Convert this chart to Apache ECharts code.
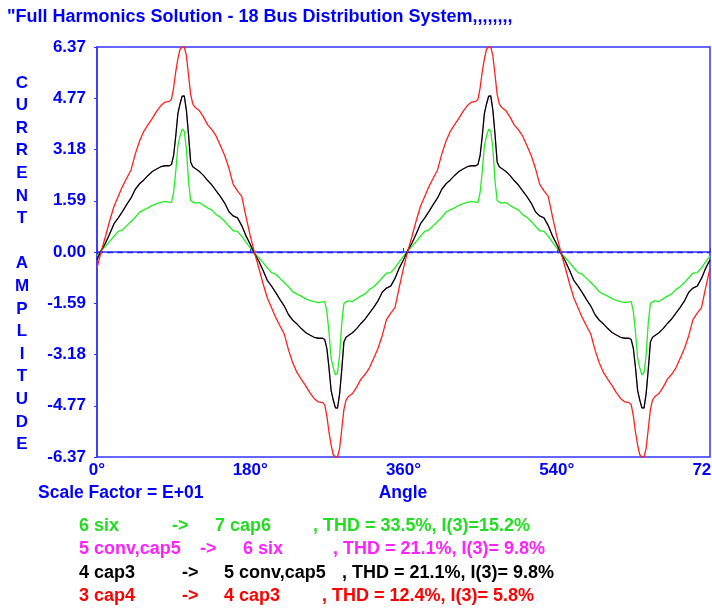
<!DOCTYPE html>
<html><head><meta charset="utf-8">
<script src="https://cdn.jsdelivr.net/npm/echarts@6/dist/echarts.min.js"></script>
<style>html,body{margin:0;padding:0;background:#fff}#c{width:712px;height:608px}</style>
</head><body><div id="c"></div>
<script>
const titleText = '"Full Harmonics Solution - 18 Bus Distribution System,,,,,,,,';
const yAxisTitle = 'CURRENT AMPLITUDE';
const xAxisTitle = 'Angle';
const scaleText = 'Scale Factor = E+01';
const yTickLabels = ['-6.37','-4.77','-3.18','-1.59','0.00','1.59','3.18','4.77','6.37'];
const xTicks = [0, 180, 360, 540, 720];

const angles = [0,5,10,15,20,25,30,35,40,45,50,55,60,65,70,75,80,85,87.5,90,92.5,95,97.5,100,102.5,105,107.5,110,112.5,115,120,125,130,135,140,145,150,155,160,165,170,175,
180,185,190,195,200,205,210,215,220,225,230,235,240,245,250,255,260,265,267.5,270,272.5,275,277.5,280,282.5,285,287.5,290,292.5,295,300,305,310,315,320,325,330,335,340,345,350,355,
360,365,370,375,380,385,390,395,400,405,410,415,420,425,430,435,440,445,447.5,450,452.5,455,457.5,460,462.5,465,467.5,470,472.5,475,480,485,490,495,500,505,510,515,520,525,530,535,
540,545,550,555,560,565,570,575,580,585,590,595,600,605,610,615,620,625,627.5,630,632.5,635,637.5,640,642.5,645,647.5,650,652.5,655,660,665,670,675,680,685,690,695,700,705,710,715,720];

const greenValues = [-0.13,0.04,0.18,0.33,0.49,0.64,0.69,0.82,0.95,1.08,1.24,1.31,1.37,1.45,1.50,1.54,1.57,1.55,1.54,1.85,2.50,3.30,3.60,3.82,3.75,3.20,2.20,1.60,1.55,1.52,1.54,1.45,1.37,1.30,1.16,1.08,0.95,0.80,0.66,0.64,0.49,0.30,
0.13,-0.04,-0.18,-0.33,-0.49,-0.64,-0.69,-0.82,-0.95,-1.08,-1.24,-1.31,-1.37,-1.45,-1.50,-1.54,-1.57,-1.55,-1.54,-1.85,-2.50,-3.30,-3.60,-3.82,-3.75,-3.20,-2.20,-1.60,-1.55,-1.52,-1.54,-1.45,-1.37,-1.30,-1.16,-1.08,-0.95,-0.80,-0.66,-0.64,-0.49,-0.30,
-0.13,0.04,0.18,0.33,0.49,0.64,0.69,0.82,0.95,1.08,1.24,1.31,1.37,1.45,1.50,1.54,1.57,1.55,1.54,1.85,2.50,3.30,3.60,3.82,3.75,3.20,2.20,1.60,1.55,1.52,1.54,1.45,1.37,1.30,1.16,1.08,0.95,0.80,0.66,0.64,0.49,0.30,
0.13,-0.04,-0.18,-0.33,-0.49,-0.64,-0.69,-0.82,-0.95,-1.08,-1.24,-1.31,-1.37,-1.45,-1.50,-1.54,-1.57,-1.55,-1.54,-1.85,-2.50,-3.30,-3.60,-3.82,-3.75,-3.20,-2.20,-1.60,-1.55,-1.52,-1.54,-1.45,-1.37,-1.30,-1.16,-1.08,-0.95,-0.80,-0.66,-0.64,-0.49,-0.30,
-0.13];

const blackValues = [-0.24,0.05,0.28,0.57,0.88,1.06,1.26,1.48,1.68,1.95,2.12,2.24,2.38,2.50,2.58,2.65,2.68,2.68,2.72,3.00,3.60,4.30,4.60,4.84,4.85,4.40,3.65,2.80,2.65,2.60,2.51,2.38,2.22,2.08,1.90,1.72,1.52,1.25,1.12,1.06,0.82,0.50,
0.24,-0.05,-0.28,-0.57,-0.88,-1.06,-1.26,-1.48,-1.68,-1.95,-2.12,-2.24,-2.38,-2.50,-2.58,-2.65,-2.68,-2.68,-2.72,-3.00,-3.60,-4.30,-4.60,-4.84,-4.85,-4.40,-3.65,-2.80,-2.65,-2.60,-2.51,-2.38,-2.22,-2.08,-1.90,-1.72,-1.52,-1.25,-1.12,-1.06,-0.82,-0.50,
-0.24,0.05,0.28,0.57,0.88,1.06,1.26,1.48,1.68,1.95,2.12,2.24,2.38,2.50,2.58,2.65,2.68,2.68,2.72,3.00,3.60,4.30,4.60,4.84,4.85,4.40,3.65,2.80,2.65,2.60,2.51,2.38,2.22,2.08,1.90,1.72,1.52,1.25,1.12,1.06,0.82,0.50,
0.24,-0.05,-0.28,-0.57,-0.88,-1.06,-1.26,-1.48,-1.68,-1.95,-2.12,-2.24,-2.38,-2.50,-2.58,-2.65,-2.68,-2.68,-2.72,-3.00,-3.60,-4.30,-4.60,-4.84,-4.85,-4.40,-3.65,-2.80,-2.65,-2.60,-2.51,-2.38,-2.22,-2.08,-1.90,-1.72,-1.52,-1.25,-1.12,-1.06,-0.82,-0.50,
-0.24];

// magenta case has the same THD as the black case and lies under it
const magentaValues = blackValues;

const redValues = [-0.50,0.02,0.49,0.98,1.42,1.73,2.04,2.30,2.55,3.05,3.45,3.75,3.96,4.15,4.37,4.55,4.66,4.68,4.75,5.10,5.60,6.00,6.30,6.37,6.37,6.10,5.50,4.90,4.60,4.50,4.40,4.20,3.95,3.80,3.60,3.30,3.00,2.60,2.10,1.90,1.73,1.10,
0.50,-0.02,-0.49,-0.98,-1.42,-1.73,-2.04,-2.30,-2.55,-3.05,-3.45,-3.75,-3.96,-4.15,-4.37,-4.55,-4.66,-4.68,-4.75,-5.10,-5.60,-6.00,-6.30,-6.37,-6.37,-6.10,-5.50,-4.90,-4.60,-4.50,-4.40,-4.20,-3.95,-3.80,-3.60,-3.30,-3.00,-2.60,-2.10,-1.90,-1.73,-1.10,
-0.50,0.02,0.49,0.98,1.42,1.73,2.04,2.30,2.55,3.05,3.45,3.75,3.96,4.15,4.37,4.55,4.66,4.68,4.75,5.10,5.60,6.00,6.30,6.37,6.37,6.10,5.50,4.90,4.60,4.50,4.40,4.20,3.95,3.80,3.60,3.30,3.00,2.60,2.10,1.90,1.73,1.10,
0.50,-0.02,-0.49,-0.98,-1.42,-1.73,-2.04,-2.30,-2.55,-3.05,-3.45,-3.75,-3.96,-4.15,-4.37,-4.55,-4.66,-4.68,-4.75,-5.10,-5.60,-6.00,-6.30,-6.37,-6.37,-6.10,-5.50,-4.90,-4.60,-4.50,-4.40,-4.20,-3.95,-3.80,-3.60,-3.30,-3.00,-2.60,-2.10,-1.90,-1.73,-1.10,
-0.50];

const legendRows = [
  ['6 six', '->', '7 cap6', ', THD = 33.5%, I(3)=15.2%'],
  ['5 conv,cap5', '->', '6 six', ', THD = 21.1%, I(3)= 9.8%'],
  ['4 cap3', '->', '5 conv,cap5', ', THD = 21.1%, I(3)= 9.8%'],
  ['3 cap4', '->', '4 cap3', ', THD = 12.4%, I(3)= 5.8%']
];
const legendColors = ['#22dd22', '#ff22ff', '#000000', '#ff0000'];

const BLUE = '#0000ff';
const FAM = '"Liberation Sans", Arial, sans-serif';
const yMin = -6.37, yMax = 6.37, yStep = 1.5925;

function pairs(vals) { return angles.map((a, i) => [a, vals[i]]); }

const graphics = [];
graphics.push({type:'text', style:{x:7, y:17, text:titleText, fill:BLUE, font:'bold 18px ' + FAM, align:'left', verticalAlign:'middle'}});
const letters = yAxisTitle.split('');
letters.forEach((ch, i) => {
  if (ch === ' ') return;
  graphics.push({type:'text', style:{x:22, y:83 + i*22.6, text:ch, fill:BLUE, font:'bold 17px ' + FAM, align:'center', verticalAlign:'middle'}});
});
graphics.push({type:'text', style:{x:38, y:493, text:scaleText, fill:BLUE, font:'bold 17.5px ' + FAM, align:'left', verticalAlign:'middle'}});
graphics.push({type:'text', style:{x:403, y:493, text:xAxisTitle, fill:BLUE, font:'bold 17.5px ' + FAM, align:'center', verticalAlign:'middle'}});
const colX = [[79,172,215,313],[79,200,243,333],[79,182,224,342],[79,182,224,322]];
const rowY = [526, 549, 573, 596];
legendRows.forEach((row, r) => {
  row.forEach((seg, k) => {
    graphics.push({type:'text', style:{x:colX[r][k], y:rowY[r], text:seg, fill:legendColors[r], font:'bold 18px ' + FAM, align:'left', verticalAlign:'middle'}});
  });
});

const chart = echarts.init(document.getElementById('c'), null, {renderer:'canvas'});
chart.setOption({
  animation:false,
  backgroundColor:'#fff',
  grid:{left:97, right:2, top:47, bottom:151, outerBoundsMode:'none', containLabel:false, show:true, borderColor:'#3333ff', borderWidth:1.5},
  xAxis:{type:'value', min:0, max:720, interval:180,
    axisLine:{show:true, lineStyle:{color:'#3333ff', width:1.5}},
    axisTick:{show:true, inside:true, length:4, lineStyle:{color:'#3333ff'}},
    splitLine:{show:false},
    axisLabel:{show:true, showMaxLabel:true, showMinLabel:true, margin:5, color:BLUE, fontWeight:'bold', fontSize:17, fontFamily:FAM,
      formatter:(v)=> v + '°'}},
  yAxis:{type:'value', min:yMin, max:yMax, interval:yStep,
    axisLine:{show:true, lineStyle:{color:'#3333ff', width:1.5}},
    axisTick:{show:true, length:3, lineStyle:{color:'#3333ff'}},
    splitLine:{show:false},
    axisLabel:{show:true, margin:11, color:BLUE, fontWeight:'bold', fontSize:17, fontFamily:FAM,
      formatter:(v)=> yTickLabels[Math.round((v - yMin)/yStep)]}},
  graphic:graphics,
  series:[
    {type:'line', data:pairs(greenValues), showSymbol:false, symbol:'none', lineStyle:{color:'#22ee22', width:1.3}, z:2,
      markLine:{silent:true, symbol:'none', label:{show:false}, lineStyle:{color:'#2222ff', type:[6,4], width:1.3}, data:[{yAxis:0}]}},
    {type:'line', data:pairs(magentaValues), showSymbol:false, symbol:'none', lineStyle:{color:'#ff00ff', width:0.6}, z:3},
    {type:'line', data:pairs(blackValues), showSymbol:false, symbol:'none', lineStyle:{color:'#000000', width:1.3}, z:4},
    {type:'line', data:pairs(redValues), showSymbol:false, symbol:'none', lineStyle:{color:'#ff2020', width:1.3}, z:5}
  ]
});
</script></body></html>
